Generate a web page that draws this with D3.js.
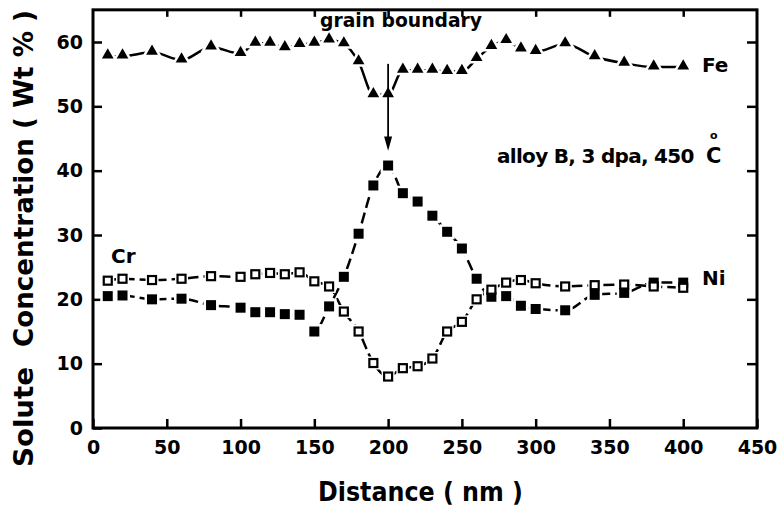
<!DOCTYPE html>
<html>
<head>
<meta charset="utf-8">
<script src="https://cdn.jsdelivr.net/npm/d3@7"></script>
<style>
  body { margin: 0; background: #fff; }
  text { font-family: "DejaVu Sans", sans-serif; font-weight: bold; fill: #000; }
</style>
</head>
<body>
<script>
// chart size
var width = 784;
var height = 510;
var margin = {top: 10, right: 27, bottom: 82, left: 93};

// data
var distance = [10, 20, 40, 60, 80, 100, 110, 120, 130, 140, 150, 160, 170, 180, 190, 200,
  210, 220, 230, 240, 250, 260, 270, 280, 290, 300, 320, 340, 360, 380, 400];
var fe = [57.8, 57.8, 58.4, 57.2, 59.2, 58.2, 59.8, 59.8, 59.1, 59.6, 59.8, 60.3, 59.7, 56.9, 51.8, 51.8,
  55.6, 55.6, 55.6, 55.4, 55.4, 57.4, 59.3, 60.2, 58.9, 58.5, 59.7, 57.7, 56.7, 56.1, 56.1];
var ni = [20.5, 20.6, 20.0, 20.1, 19.1, 18.7, 18.0, 18.0, 17.7, 17.6, 15.0, 18.9, 23.5, 30.2, 37.7, 40.8,
  36.5, 35.2, 33.0, 30.5, 27.9, 23.2, 20.4, 20.5, 19.0, 18.5, 18.3, 20.7, 21.0, 22.6, 22.6];
var cr = [22.9, 23.2, 23.0, 23.2, 23.6, 23.5, 23.9, 24.1, 23.9, 24.2, 22.8, 22.0, 18.1, 15.0, 10.1, 8.0,
  9.3, 9.6, 10.8, 15.0, 16.5, 20.0, 21.5, 22.6, 23.0, 22.5, 22.0, 22.2, 22.3, 22.0, 21.8];
var xTicks = [0, 50, 100, 150, 200, 250, 300, 350, 400, 450];
var yTicks = [0, 10, 20, 30, 40, 50, 60];

var svg = d3.select('body').append('svg')
  .attr('width', width)
  .attr('height', height);

var x = d3.scaleLinear().domain([0, 450]).range([margin.left, width - margin.right]);
var y = d3.scaleLinear().domain([0, 60]).range([height - margin.bottom, 42]);
var yTop = y(65);

// axes, all ticks point inward
var bottomAxis = d3.axisBottom(x).tickValues(xTicks).tickSize(-9).tickPadding(13);
var leftAxis = d3.axisLeft(y).tickValues(yTicks).tickSize(-9).tickPadding(10);
var topAxis = d3.axisTop(x).tickValues(xTicks.slice(1, -1)).tickSize(-7).tickFormat('');
var rightAxis = d3.axisRight(y).tickValues(yTicks.slice(1)).tickSize(-10).tickFormat('');

function styleAxis(g) {
  g.select('.domain').remove();
  g.selectAll('line').attr('stroke', '#000').attr('stroke-width', 2.5);
  g.selectAll('text').style('font-size', '19px').attr('fill', '#000');
}

svg.append('g').attr('transform', 'translate(0,' + y(0) + ')').call(bottomAxis).call(styleAxis);
svg.append('g').attr('transform', 'translate(' + x(0) + ',0)').call(leftAxis).call(styleAxis);
svg.append('g').attr('transform', 'translate(0,' + yTop + ')').call(topAxis).call(styleAxis);
svg.append('g').attr('transform', 'translate(' + x(450) + ',0)').call(rightAxis).call(styleAxis);

// frame
svg.append('rect')
  .attr('x', x(0)).attr('y', yTop)
  .attr('width', x(450) - x(0)).attr('height', y(0) - yTop)
  .attr('fill', 'none').attr('stroke', '#000').attr('stroke-width', 3);

// lines
function pts(vals) {
  return distance.map(function(d, i) { return [d, vals[i]]; });
}
var line = d3.line()
  .x(function(d) { return x(d[0]); })
  .y(function(d) { return y(d[1]); })
  .curve(d3.curveMonotoneX);

var series = [
  {name: 'Fe', vals: fe, shape: 'tri', dash: null},
  {name: 'Ni', vals: ni, shape: 'sq', dash: '11,5'},
  {name: 'Cr', vals: cr, shape: 'open', dash: '11,5'}
];

series.forEach(function(s) {
  svg.append('path')
    .attr('d', line(pts(s.vals)))
    .attr('fill', 'none')
    .attr('stroke', '#000')
    .attr('stroke-width', 2.5)
    .attr('stroke-dasharray', s.dash);
});

// markers, with a white halo so the lines stop short of them
var tri = d3.symbol().type(d3.symbolTriangle).size(60);
function drawMarks(s, halo) {
  var g = svg.append('g');
  var sel = g.selectAll('.m').data(pts(s.vals)).enter();
  if (s.shape == 'tri') {
    sel.append('path')
      .attr('d', tri)
      .attr('transform', function(d) { return 'translate(' + x(d[0]) + ',' + (y(d[1]) - 1) + ')'; })
      .attr('fill', halo ? '#fff' : '#000')
      .attr('stroke', halo ? '#fff' : 'none')
      .attr('stroke-width', halo ? 5 : 0);
  } else {
    var size = s.shape == 'sq' ? 10 : 8;
    sel.append('rect')
      .attr('x', function(d) { return x(d[0]) - size / 2; })
      .attr('y', function(d) { return y(d[1]) - size / 2; })
      .attr('width', size).attr('height', size)
      .attr('fill', halo ? '#fff' : (s.shape == 'sq' ? '#000' : '#fff'))
      .attr('stroke', halo ? '#fff' : '#000')
      .attr('stroke-width', halo ? 5 : (s.shape == 'sq' ? 0 : 2.2));
  }
}
series.forEach(function(s) { drawMarks(s, true); });
series.forEach(function(s) { drawMarks(s, false); });

// grain boundary arrow
svg.append('line')
  .attr('x1', x(200)).attr('x2', x(200))
  .attr('y1', y(56.6)).attr('y2', y(44.5))
  .attr('stroke', '#000').attr('stroke-width', 1.8);
svg.append('path')
  .attr('d', 'M' + (x(200) - 4) + ',' + y(45.3) + 'L' + (x(200) + 4) + ',' + y(45.3) + 'L' + x(200) + ',' + y(43.1) + 'Z')
  .attr('fill', '#000');

// labels
svg.append('text').attr('x', 320).attr('y', 27)
  .attr('textLength', 162).attr('lengthAdjust', 'spacingAndGlyphs')
  .style('font-size', '19px').text('grain boundary');
svg.append('text').attr('x', 702).attr('y', 72).style('font-size', '20px').text('Fe');
svg.append('text').attr('x', 702).attr('y', 285).style('font-size', '20px').text('Ni');
svg.append('text').attr('x', 111).attr('y', 263).style('font-size', '20px').text('Cr');
// condition label, degree sign sits over the C, all in one text element
var cond = svg.append('text').attr('x', 497).attr('y', 163).style('font-size', '20px');
cond.append('tspan').style('letter-spacing', '-0.7px').text('alloy B, 3 dpa, 450');
cond.append('tspan').attr('x', 706).style('font-size', '21px').text('C');
cond.append('tspan').attr('x', 710).attr('y', 139).style('font-size', '11px').text('o');

// axis titles
svg.append('text').attr('x', 318).attr('y', 501)
  .attr('textLength', 205).attr('lengthAdjust', 'spacingAndGlyphs')
  .style('font-size', '26px').text('Distance ( nm )');
svg.append('text')
  .attr('transform', 'translate(33,467) rotate(-90)')
  .attr('textLength', 100).attr('lengthAdjust', 'spacingAndGlyphs')
  .style('font-size', '26px').text('Solute');
svg.append('text')
  .attr('transform', 'translate(33,347) rotate(-90)')
  .attr('textLength', 337).attr('lengthAdjust', 'spacingAndGlyphs')
  .style('font-size', '26px').text('Concentration ( Wt % )');
</script>
</body>
</html>
